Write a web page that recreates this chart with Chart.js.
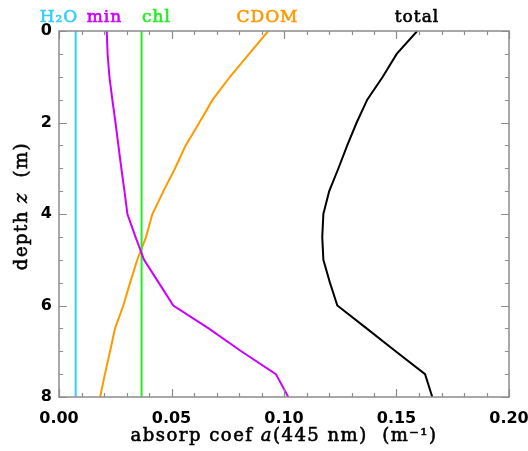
<!DOCTYPE html>
<html>
<head>
<meta charset="utf-8">
<script src="https://cdn.jsdelivr.net/npm/chart.js@4/dist/chart.umd.min.js"></script>
<style>
  html, body { margin: 0; background: #fff; }
</style>
</head>
<body>
<canvas id="absorp" width="528" height="451"></canvas>
<script>
// absorption profiles at 445 nm, depth in metres
const depth = [0, 0.5, 1, 1.5, 2, 2.5, 3, 3.5, 4, 4.5, 5, 5.5, 6, 6.5, 7, 7.5, 8];
const minAbs = [0.0212, 0.0216, 0.0224, 0.0237, 0.0251, 0.0264, 0.0277, 0.0291, 0.0304, 0.0340, 0.0378, 0.0443, 0.0508, 0.0665, 0.0810, 0.0964, 0.1019];
const cdomAbs = [0.0930, 0.0845, 0.0760, 0.0683, 0.0624, 0.0563, 0.0516, 0.0464, 0.0415, 0.0387, 0.0348, 0.0316, 0.0286, 0.0249, 0.0227, 0.0204, 0.0183];
const totalAbs = [0.1592, 0.1501, 0.1439, 0.1370, 0.1323, 0.1281, 0.1242, 0.1201, 0.1175, 0.1170, 0.1175, 0.1204, 0.1237, 0.1367, 0.1496, 0.1627, 0.1659];
// constant with depth
const flatDepth = [0, 8];
const h2oAbs = [0.0074, 0.0074];
const chlAbs = [0.0367, 0.0367];

const xTicks = [0, 0.05, 0.10, 0.15, 0.20];
const yTicks = [0, 2, 4, 6, 8];

const pts = (xs, ys) => xs.map((x, i) => ({ x, y: ys[i] }));

const series = [
    { label: 'H₂O', color: '#33ccff', data: pts(h2oAbs, flatDepth), at: 59 },
    { label: 'min', color: '#cc00ff', data: pts(minAbs, depth), at: 104.5 },
    { label: 'chl', color: '#22ee22', data: pts(chlAbs, flatDepth), at: 156.5 },
    { label: 'CDOM', color: '#ff9900', data: pts(cdomAbs, depth), at: 267.5 },
    { label: 'total', color: '#000000', data: pts(totalAbs, depth), at: 417 }
];

const serif = "'DejaVu Serif', serif";

// filled text with a thin outline in the same colour, a bit heavier than regular
const heavyText = (ctx, t, x, y) => {
    ctx.fillText(t, x, y);
    ctx.strokeText(t, x, y);
};

// draw a run of [text, font] pieces centred on cx
const drawRun = (ctx, parts, cx, cy) => {
    let w = 0;
    parts.forEach(([t, f]) => { ctx.font = f; w += ctx.measureText(t).width; });
    let px = cx - w / 2;
    parts.forEach(([t, f]) => {
        ctx.font = f;
        heavyText(ctx, t, px, cy);
        px += ctx.measureText(t).width;
    });
};

// frame, inward ticks, colored labels across the top and the axis titles
const decor = {
    id: 'decor',
    afterDatasetsDraw(chart) {
        const { ctx, chartArea: a, scales: { x, y } } = chart;
        ctx.save();
        ctx.strokeStyle = '#8c8c8c';
        ctx.lineWidth = 1.5;
        ctx.strokeRect(a.left, a.top, a.right - a.left, a.bottom - a.top);
        ctx.lineWidth = 1.2;
        ctx.beginPath();
        for (let i = 0; i <= 20; i++) {
            const px = Math.round(x.getPixelForValue(i / 100)) + 0.5;
            const len = i % 5 === 0 ? 8 : 4;
            ctx.moveTo(px, a.bottom); ctx.lineTo(px, a.bottom - len);
            ctx.moveTo(px, a.top); ctx.lineTo(px, a.top + len);
        }
        for (let i = 0; i <= 16; i++) {
            const py = Math.round(y.getPixelForValue(i / 2)) + 0.5;
            const len = i % 4 === 0 ? 8 : 4;
            ctx.moveTo(a.left, py); ctx.lineTo(a.left + len, py);
            ctx.moveTo(a.right, py); ctx.lineTo(a.right - len, py);
        }
        ctx.stroke();

        ctx.lineWidth = 0.6;
        ctx.letterSpacing = '1px';
        ctx.font = `17px ${serif}`;
        ctx.textAlign = 'center';
        ctx.textBaseline = 'alphabetic';
        series.forEach(s => {
            ctx.fillStyle = s.color;
            ctx.strokeStyle = s.color;
            heavyText(ctx, s.label, s.at, 22);
        });

        ctx.fillStyle = '#000';
        ctx.strokeStyle = '#000';
        ctx.textAlign = 'left';
        ctx.letterSpacing = '1.5px';
        drawRun(ctx, [
            ['absorp coef ', `18px ${serif}`],
            ['a', `italic 18px ${serif}`],
            ['(445 nm)  (m⁻¹)', `18px ${serif}`]
        ], 284, 441);

        ctx.translate(27, 206);
        ctx.rotate(-Math.PI / 2);
        drawRun(ctx, [
            ['depth ', `18px ${serif}`],
            ['z', `italic 18px ${serif}`],
            ['  (m)', `18px ${serif}`]
        ], 0, 0);
        ctx.restore();
    }
};

const tickFont = { family: "'DejaVu Sans', sans-serif", size: 16, weight: 'bold' };

new Chart(document.getElementById('absorp'), {
    type: 'scatter',
    data: {
        datasets: series.map(s => ({
            label: s.label,
            data: s.data,
            showLine: true,
            borderColor: s.color,
            borderWidth: 2,
            pointRadius: 0,
            tension: 0
        }))
    },
    options: {
        responsive: false,
        animation: false,
        layout: { padding: { top: 31, right: 19, left: 0, bottom: 0 } },
        plugins: { legend: { display: false }, tooltip: { enabled: false } },
        scales: {
            x: {
                type: 'linear', min: 0, max: 0.2,
                afterBuildTicks: s => { s.ticks = xTicks.map(value => ({ value })); },
                afterFit: s => { s.height = 54; s.paddingLeft = 0; s.paddingRight = 0; },
                grid: { display: false, drawTicks: false },
                border: { display: false },
                ticks: { color: '#000', font: tickFont, padding: 12, maxRotation: 0, callback: v => v.toFixed(2) }
            },
            y: {
                type: 'linear', min: 0, max: 8, reverse: true,
                afterBuildTicks: s => { s.ticks = yTicks.map(value => ({ value })); },
                afterFit: s => { s.width = 59; s.paddingTop = 0; s.paddingBottom = 0; },
                grid: { display: false, drawTicks: false },
                border: { display: false },
                ticks: { color: '#000', font: tickFont, padding: 7, callback: v => String(v) }
            }
        }
    },
    plugins: [decor]
});
</script>
</body>
</html>
